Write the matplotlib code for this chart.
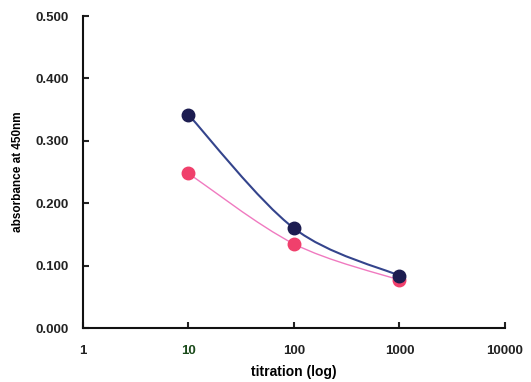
import matplotlib.pyplot as plt
import numpy as np
from matplotlib.path import Path
from matplotlib.patches import PathPatch

# data
titration = [10, 100, 1000]
blue_abs = [0.342, 0.160, 0.084]
pink_abs = [0.248, 0.135, 0.077]
xticks = [1, 10, 100, 1000, 10000]
xticklabels = ["1", "10", "100", "1000", "10000"]
yticks = [0.0, 0.1, 0.2, 0.3, 0.4, 0.5]

plt.rcParams["font.family"] = ["Liberation Sans", "DejaVu Sans"]


def smooth_path(x, y, t=0.5):
    # Catmull-Rom style bezier through points, built in log-x space
    lx = np.log10(x)
    y = np.asarray(y, float)
    n = len(lx)
    verts = [(x[0], y[0])]
    codes = [Path.MOVETO]
    for i in range(n - 1):
        p0 = (lx[max(i - 1, 0)], y[max(i - 1, 0)])
        p1 = (lx[i], y[i])
        p2 = (lx[i + 1], y[i + 1])
        p3 = (lx[min(i + 2, n - 1)], y[min(i + 2, n - 1)])
        c1 = (p1[0] + (p2[0] - p0[0]) * t / 3, p1[1] + (p2[1] - p0[1]) * t / 3)
        c2 = (p2[0] - (p3[0] - p1[0]) * t / 3, p2[1] - (p3[1] - p1[1]) * t / 3)
        verts += [(10 ** c1[0], c1[1]), (10 ** c2[0], c2[1]), (x[i + 1], y[i + 1])]
        codes += [Path.CURVE4] * 3
    return Path(verts, codes)


fig = plt.figure(figsize=(5.31, 3.82), dpi=100)
ax = fig.add_axes([0.156, 0.141, 0.795, 0.817])
ax.set_xscale("log")
ax.set_xlim(1, 10000)
ax.set_ylim(0, 0.5)

ax.add_patch(PathPatch(smooth_path(titration, pink_abs), fill=False,
                       edgecolor="#f07ac0", lw=1.0, zorder=2))
ax.add_patch(PathPatch(smooth_path(titration, blue_abs), fill=False,
                       edgecolor="#34448c", lw=1.5, zorder=2))
ax.plot(titration, pink_abs, "o", color="#f0406c", ms=9, zorder=3)
ax.plot(titration, blue_abs, "o", color="#1c1c50", ms=9, zorder=4)

for s in ["top", "right"]:
    ax.spines[s].set_visible(False)
for s in ["left", "bottom"]:
    ax.spines[s].set_linewidth(1.5)
    ax.spines[s].set_color("#111111")

ax.set_xticks(xticks)
ax.set_xticklabels(xticklabels)
ax.minorticks_off()
ax.set_yticks(yticks)
ax.set_yticklabels([f"{v:.3f}" for v in yticks])
ax.tick_params(axis="both", direction="in", length=4, width=1.5,
               labelsize=9.5, colors="#222222")
ax.tick_params(axis="x", pad=12)
ax.tick_params(axis="y", pad=10)
for lab in ax.get_xticklabels() + ax.get_yticklabels():
    lab.set_fontweight("bold")
ax.get_xticklabels()[1].set_color("#1a4a1a")

ax.set_xlabel("titration (log)", fontsize=10, fontweight="bold", labelpad=6)
ax.set_ylabel("absorbance at 450nm", fontsize=8.5, fontweight="bold", labelpad=8)

fig.savefig("out.png", dpi=100)
